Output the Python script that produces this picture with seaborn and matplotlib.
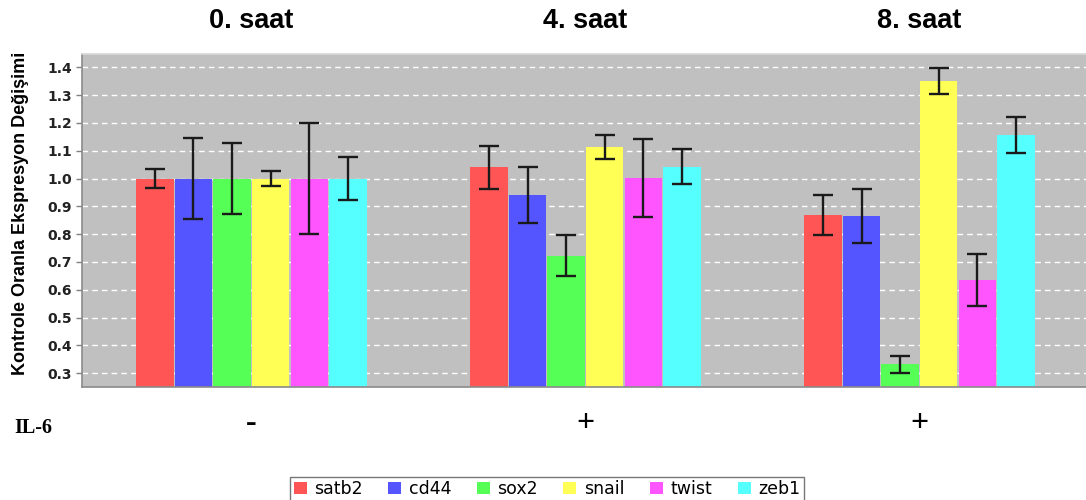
import matplotlib
matplotlib.use("Agg")
import matplotlib.pyplot as plt
from matplotlib.patches import Patch
import matplotlib.transforms as mtransforms
import numpy as np
import pandas as pd
import seaborn as sns

# Time points, treatment markers and genes
times = ["0. saat", "4. saat", "8. saat"]
il6 = ["-", "+", "+"]
genes = ["satb2", "cd44", "sox2", "snail", "twist", "zeb1"]

# Relative expression (fold change vs control) per gene across time points
satb2 = [1.00, 1.04, 0.868]
cd44 = [1.00, 0.94, 0.865]
sox2 = [1.00, 0.723, 0.332]
snail = [1.00, 1.112, 1.352]
twist = [1.00, 1.002, 0.635]
zeb1 = [1.00, 1.043, 1.158]

# Error bar half-widths
satb2_err = [0.033, 0.078, 0.072]
cd44_err = [0.147, 0.100, 0.097]
sox2_err = [0.129, 0.074, 0.030]
snail_err = [0.027, 0.043, 0.047]
twist_err = [0.198, 0.142, 0.093]
zeb1_err = [0.078, 0.062, 0.065]

yticks = [0.3, 0.4, 0.5, 0.6, 0.7, 0.8, 0.9, 1.0, 1.1, 1.2, 1.3, 1.4]

values = {"satb2": satb2, "cd44": cd44, "sox2": sox2,
          "snail": snail, "twist": twist, "zeb1": zeb1}
errors = {"satb2": satb2_err, "cd44": cd44_err, "sox2": sox2_err,
          "snail": snail_err, "twist": twist_err, "zeb1": zeb1_err}
colors = ["#FF5555", "#5555FF", "#55FF55", "#FFFF55", "#FF55FF", "#55FFFF"]

rows = []
for g in genes:
    for t, v, e in zip(times, values[g], errors[g]):
        rows.append({"time": t, "gene": g, "value": v, "err": e})
df = pd.DataFrame(rows)

sns.set_theme(style="white")
plt.rcParams["font.family"] = ["DejaVu Sans"]
plt.rcParams["text.color"] = "black"

fig = plt.figure(figsize=(10.86, 5.0), dpi=100)
ax = fig.add_axes([82 / 1086, 1 - 387 / 500, 1004 / 1086 + 0.002, 333 / 500])
ax.set_facecolor("#C0C0C0")

sns.barplot(data=df, x="time", y="value", hue="gene", order=times,
            hue_order=genes, palette=colors, width=0.693, gap=0.03,
            errorbar=None, saturation=1, legend=False, ax=ax,
            edgecolor="none", zorder=2)

# Error bars placed at the centre of each drawn bar
for cont, g in zip(ax.containers, genes):
    xs = [p.get_x() + p.get_width() / 2 for p in cont.patches]
    ys = [p.get_height() for p in cont.patches]
    ax.errorbar(xs, ys, yerr=errors[g], fmt="none", ecolor="#1a1a1a",
                elinewidth=1.7, capsize=7.2, capthick=1.7, zorder=3)

ax.set_ylim(0.25, 1.448)
ax.set_xlim(-0.507, 2.505)
ax.set_yticks(yticks)
ax.set_yticklabels([f"{t:.1f}" for t in yticks], fontsize=10,
                   fontweight="bold", color="#222222")
ax.yaxis.grid(True, color="white", linestyle=(0, (4, 3)), linewidth=1.0, zorder=1)
ax.set_axisbelow(True)
ax.tick_params(axis="y", which="major", left=True, length=4, width=1,
               color="#808080", pad=3)

# Treatment markers under each group
ax.set_xticks(range(len(times)))
ax.set_xticklabels(il6, fontsize=23, fontweight="bold",
                   family="Liberation Serif", color="black")
ax.tick_params(axis="x", length=0, pad=16)
ax.set_xlabel("")
ax.set_ylabel("Kontrole Oranla Ekspresyon Değişimi", fontsize=13,
              fontweight="bold", family="Liberation Sans", color="black")
ax.yaxis.set_label_coords(-0.053, 0.52)

for side in ["left", "bottom"]:
    ax.spines[side].set_color("#8a8a8a")
    ax.spines[side].set_linewidth(1.2)
ax.spines["top"].set_color("#d8d8d8")
ax.spines["right"].set_visible(False)

# Time point headers above each group
trans = mtransforms.blended_transform_factory(ax.transData, fig.transFigure)
for i, t in enumerate(times):
    ax.text(i, 1 - 21 / 500, t, transform=trans, ha="center", va="center",
            fontsize=19.5, fontweight="bold", family="Liberation Sans",
            color="black")

fig.text(14 / 1086, 1 - 428 / 500, "IL-6", ha="left", va="center",
         fontsize=14.5, fontweight="bold", family="Liberation Serif",
         color="black")

handles = [Patch(facecolor=c, edgecolor="none", label=g)
           for c, g in zip(colors, genes)]
leg = fig.legend(handles=handles, loc="center", ncol=6,
                 bbox_to_anchor=(547 / 1086, 1 - 489 / 500), frameon=True,
                 fontsize=12.5, handlelength=0.75, handleheight=0.75,
                 handletextpad=0.45, columnspacing=1.45, borderpad=0.2,
                 fancybox=False)
leg.get_frame().set_edgecolor("#555555")
leg.get_frame().set_linewidth(1.0)

fig.savefig("out.png", dpi=100)
